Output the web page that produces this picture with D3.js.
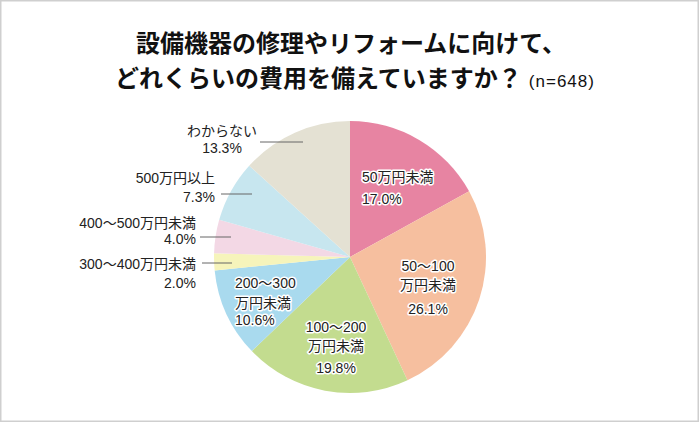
<!DOCTYPE html>
<html><head><meta charset="utf-8">
<script src="https://cdn.jsdelivr.net/npm/d3@7"></script>
<style>
html,body{margin:0;padding:0;background:#fff;}
svg text{font-family:"Liberation Sans","Noto Sans CJK JP",sans-serif;}
svg text.title{font-family:"Noto Sans CJK JP",sans-serif;}
</style></head>
<body><svg id="chart" width="700" height="423"></svg>
<script>
const categories = ["50万円未満","50～100万円未満","100～200万円未満","200～300万円未満","300～400万円未満","400～500万円未満","500万円以上","わからない"];
const values = [17.0, 26.1, 19.8, 10.6, 2.0, 4.0, 7.3, 13.3];
const labelLines = [["50万円未満"],["50～100","万円未満"],["100～200","万円未満"],["200～300","万円未満"],["300～400万円未満"],["400～500万円未満"],["500万円以上"],["わからない"]];
const colors = ["#e784a2","#f6bf9f","#c3dc8f","#a9daee","#f6f4bb","#f3d8e5","#c7e6ef","#e4e1d3"];
const titleLines = ["設備機器の修理やリフォームに向けて、","どれくらいの費用を備えていますか？"];
const sampleNote = "(n=648)";

// layout (not data)
const W = 700, H = 423, cx = 350, cy = 257, R = 136;
const FS = 14;
const insideLayout = {
  0: {x: 362, y: 182, anchor: "start", gaps: [0, 22]},
  1: {x: 428, y: 271, anchor: "middle", gaps: [0, 19, 43]},
  2: {x: 336, y: 332, anchor: "middle", gaps: [0, 19, 41]},
  3: {x: 235, y: 288, anchor: "start", gaps: [0, 20, 37]}
};
const outsideLayout = {
  4: {lx1: 202, lx2: 232, ly: 263, tx: 196, ty: [269, 288], anchor:"end"},
  5: {lx1: 200, lx2: 231, ly: 237, tx: 196, ty: [228, 244], anchor:"end"},
  6: {lx1: 221, lx2: 252, ly: 194, tx: 215, ty: [183, 202], anchor:"end"},
  7: {lx1: 260, lx2: 303, ly: 142, tx: 222, ty: [136, 153], anchor:"middle"}
};

const svg = d3.select("#chart");
svg.append("rect").attr("x",0.75).attr("y",0.75).attr("width",W-2.5).attr("height",H-2.5)
  .attr("fill","#fff").attr("stroke","#cfcfcf").attr("stroke-width",1.5);

// title
const title = svg.append("g").attr("font-weight","bold").attr("fill","#111");
title.append("text").attr("class","title").attr("x",351).attr("y",52).attr("text-anchor","middle")
  .attr("font-size",24).text(titleLines[0]);
const t2 = title.append("text").attr("x",355).attr("y",87).attr("text-anchor","middle");
t2.append("tspan").attr("font-size",24).style("font-family","'Noto Sans CJK JP',sans-serif").text(titleLines[1]);
t2.append("tspan").attr("font-size",17).attr("font-weight","normal").attr("letter-spacing",1).attr("dx",7).text(sampleNote);

const pie = d3.pie().sort(null).value(d => d);
const arcs = pie(values);
const arc = d3.arc().innerRadius(0).outerRadius(R);
const color = d3.scaleOrdinal().domain(categories).range(colors);

const g = svg.append("g").attr("transform",`translate(${cx},${cy})`);
g.selectAll("path").data(arcs).join("path")
  .attr("d", arc)
  .attr("fill", (d,i) => color(categories[i]));

const fmt = v => v.toFixed(1) + "%";

Object.entries(insideLayout).forEach(([k, L]) => {
  const i = +k;
  const lines = labelLines[i].concat([fmt(values[i])]);
  lines.forEach((s, j) => {
    svg.append("text").attr("x", L.x).attr("y", L.y + L.gaps[j])
      .attr("text-anchor", L.anchor).attr("font-size", FS).attr("fill","#222")
      .attr("stroke","#fff").attr("stroke-width",3).attr("stroke-linejoin","round")
      .attr("paint-order","stroke").text(s);
  });
});

Object.entries(outsideLayout).forEach(([k, L]) => {
  const i = +k;
  svg.append("line").attr("x1",L.lx1).attr("x2",L.lx2).attr("y1",L.ly).attr("y2",L.ly)
    .attr("stroke","#666").attr("stroke-width",1);
  const lines = labelLines[i].concat([fmt(values[i])]);
  lines.forEach((s, j) => {
    svg.append("text").attr("x", L.tx).attr("y", L.ty[j])
      .attr("text-anchor", L.anchor).attr("font-size", FS).attr("fill","#222").text(s);
  });
});
</script></body></html>
